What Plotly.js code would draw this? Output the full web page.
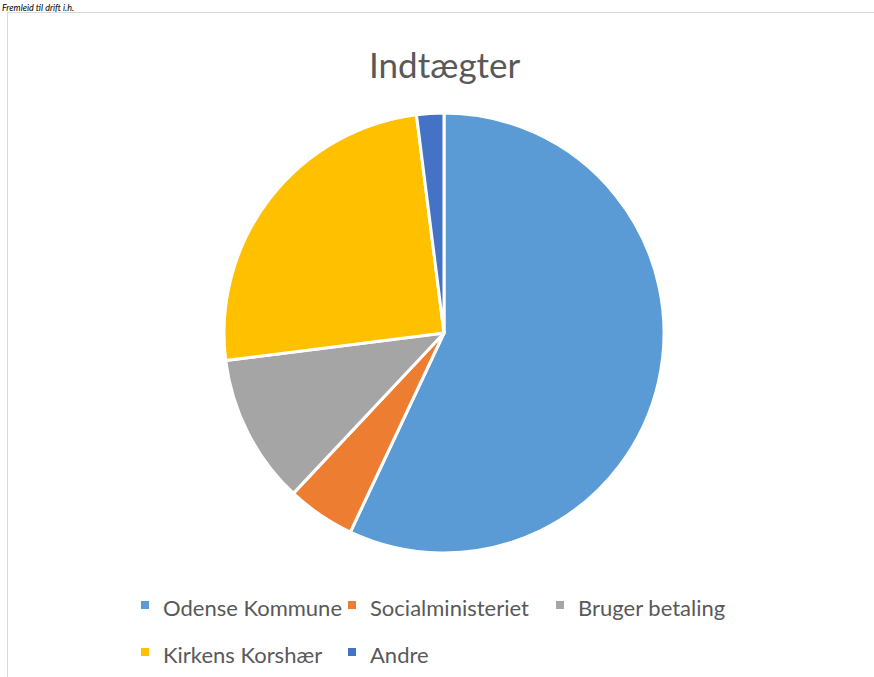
<!DOCTYPE html>
<html><head><meta charset="utf-8">
<script src="https://cdn.plot.ly/plotly-3.0.1.min.js"></script>
<style>html,body{margin:0;padding:0;background:#fff;}#chart{width:874px;height:677px;}</style>
</head><body><div id="chart"></div>
<script>
const categories = ["Odense Kommune", "Socialministeriet", "Bruger betaling", "Kirkens Korshær", "Andre"];
const values = [57, 5, 11, 25, 2];
const colors = ["#5B9BD5", "#ED7D31", "#A5A5A5", "#FFC000", "#4472C4"];
const chartTitle = "Indtægter";

const W = 874, H = 677;
const px = x => x / W;
const py = y => 1 - y / H;

// legend layout (pixel positions of entries)
const legendPos = [[145, 608], [352, 608], [560, 608], [145, 655], [352, 655]];

const annotations = [
  {text: chartTitle, x: px(445), y: py(64), xref: 'paper', yref: 'paper', showarrow: false,
   xanchor: 'center', yanchor: 'middle', font: {family: 'Lato, sans-serif', size: 35, color: '#595959'}},
  {text: "<i>Fremleid til drift i.h.</i>", x: px(0), y: py(0), xref: 'paper', yref: 'paper', showarrow: false,
   xanchor: 'left', yanchor: 'top', font: {family: 'Lato, sans-serif', size: 9, color: '#000'}}
];
const shapes = [
  {type: 'rect', xref: 'paper', yref: 'paper', x0: px(7.5), x1: px(890), y0: py(700), y1: py(12.5),
   line: {color: '#D9D9D9', width: 1}, fillcolor: 'rgba(0,0,0,0)'}
];
categories.forEach((c, i) => {
  const [lx, ly] = legendPos[i];
  shapes.push({type: 'rect', xref: 'paper', yref: 'paper', x0: px(lx - 4), x1: px(lx + 4), y0: py(ly + 1), y1: py(ly - 7),
    fillcolor: colors[i], line: {width: 0}});
  annotations.push({text: c, x: px(lx + 16), y: py(ly - 1), xref: 'paper', yref: 'paper', showarrow: false,
    xanchor: 'left', yanchor: 'middle', font: {family: 'Lato, sans-serif', size: 22, color: '#595959'}});
});

const trace = {
  type: 'pie', labels: categories, values: values, sort: false, direction: 'clockwise', rotation: 0,
  marker: {colors: colors, line: {color: '#FFFFFF', width: 3}},
  textinfo: 'none', hoverinfo: 'label+value+percent',
  domain: {x: [px(224), px(664)], y: [py(553), py(113)]}
};

const layout = {
  width: W, height: H, margin: {l: 0, r: 0, t: 0, b: 0},
  paper_bgcolor: '#fff', showlegend: false,
  annotations: annotations, shapes: shapes
};
Plotly.newPlot('chart', [trace], layout, {displayModeBar: false, staticPlot: true});
</script>
</body></html>
